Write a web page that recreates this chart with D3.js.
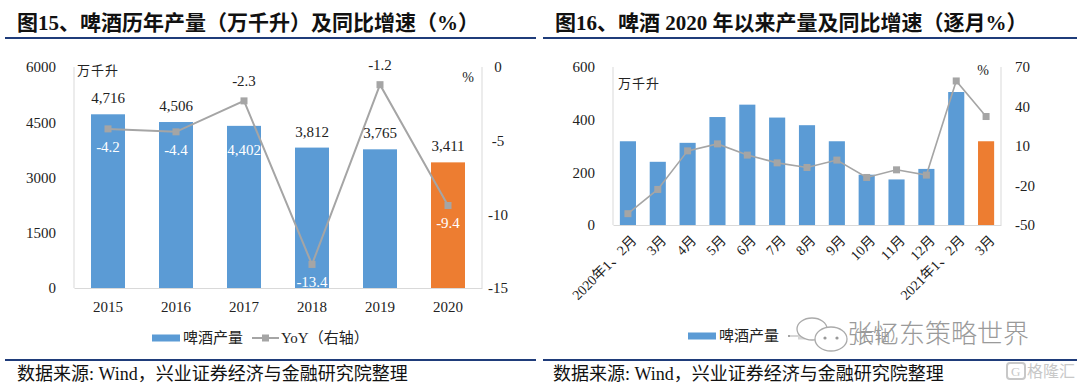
<!DOCTYPE html>
<html><head><meta charset="utf-8">
<script src="https://cdn.jsdelivr.net/npm/d3@7"></script>
<style>
html,body{margin:0;padding:0;background:#fff;}
svg{display:block;}
text{font-family:"Liberation Serif","Noto Sans CJK SC",serif;}
</style></head>
<body>
<svg id="c" width="1080" height="386"></svg>
<script>
// ---------- data ----------
const years = ["2015","2016","2017","2018","2019","2020"];
const yearOutput = [4716,4506,4402,3812,3765,3411];
const yearYoY = [-4.2,-4.4,-2.3,-13.4,-1.2,-9.4];
const yearLeftTicks = [0,1500,3000,4500,6000];
const yearRightTicks = [-15,-10,-5,0];

const months = ["2020年1、2月","3月","4月","5月","6月","7月","8月","9月","10月","11月","12月","2021年1、2月","3月"];
const monthOutput = [318,240,312,410,457,408,379,318,191,173,213,505,318];
const monthYoY = [-41.4,-23.0,6.3,11.6,3.1,-2.8,-6.3,-0.7,-13.9,-8.1,-12.1,59.4,32.4];
const monthLeftTicks = [0,200,400,600];
const monthRightTicks = [-50,-20,10,40,70];

const titles = ["图15、啤酒历年产量（万千升）及同比增速（%）","图16、啤酒 2020 年以来产量及同比增速（逐月%）"];
const sourceText = "数据来源: Wind，兴业证券经济与金融研究院整理";
const legendBar = "啤酒产量";
const legendLine = "YoY（右轴）";
const unitLeft = "万千升";
const unitRight = "%";

// ---------- styles ----------
const BLUE = "#5B9BD5", ORANGE = "#ED7D31", GREY = "#A5A5A5", AXIS = "#D9D9D9", NAVY = "#1F3C7A";
const svg = d3.select("#c");
const plain = d => String(d);              // hyphen-minus like the reference
const one = d => d.toFixed(1);

// titles & rules
[[17,titles[0]],[555,titles[1]]].forEach(([x,t])=>{
  svg.append("text").attr("x",x).attr("y",30).attr("font-size",21).attr("font-weight","bold")
    .attr("fill","#111").attr("font-family","'Noto Sans CJK SC','Liberation Serif',serif").text(t);
});
[[5,536],[543,1077]].forEach(([a,b])=>{
  svg.append("line").attr("x1",a).attr("x2",b).attr("y1",38).attr("y2",38).attr("stroke",NAVY).attr("stroke-width",2);
  svg.append("line").attr("x1",a).attr("x2",b).attr("y1",360).attr("y2",360).attr("stroke",NAVY).attr("stroke-width",2);
});
[[17],[553]].forEach(([x])=>{
  svg.append("text").attr("x",x).attr("y",380).attr("font-size",18).attr("fill","#111").text(sourceText);
});

function legend(x0, y0){
  const g = svg.append("g");
  g.append("rect").attr("x",x0).attr("y",y0-3.5).attr("width",28).attr("height",7).attr("fill",BLUE);
  g.append("text").attr("x",x0+31).attr("y",y0+5).attr("font-size",15).attr("fill","#222").text(legendBar);
  const lx = x0+100;
  g.append("line").attr("x1",lx).attr("x2",lx+27).attr("y1",y0).attr("y2",y0).attr("stroke",GREY).attr("stroke-width",2);
  g.append("rect").attr("x",lx+10).attr("y",y0-3.5).attr("width",7).attr("height",7).attr("fill",GREY);
  g.append("text").attr("x",lx+29).attr("y",y0+5).attr("font-size",15).attr("fill","#222").text(legendLine);
}

// ---------- left chart ----------
(function(){
  const x = d3.scaleBand().domain(years).range([74,482]).paddingInner(0.5).paddingOuter(0.25);
  const yL = d3.scaleLinear().domain([0,6000]).range([288,67]);
  const yR = d3.scaleLinear().domain([-15,0]).range([288,67]);
  const g = svg.append("g");
  g.append("line").attr("x1",74).attr("x2",74).attr("y1",67).attr("y2",288).attr("stroke",AXIS);
  g.append("line").attr("x1",482).attr("x2",482).attr("y1",67).attr("y2",288).attr("stroke",AXIS);
  const axL = g.append("g").attr("transform","translate(56,0)")
    .call(d3.axisLeft(yL).tickValues(yearLeftTicks).tickSize(0).tickPadding(0).tickFormat(plain));
  axL.select(".domain").remove();
  axL.selectAll("text").attr("font-size",15).attr("fill","#222").attr("font-family","'Liberation Serif',serif");
  const axR = g.append("g").attr("transform","translate(498,0)")
    .call(d3.axisRight(yR).tickValues(yearRightTicks).tickSize(0).tickPadding(0).tickFormat(plain));
  axR.select(".domain").remove();
  axR.selectAll("text").attr("font-size",15).attr("fill","#222").attr("text-anchor","middle").attr("font-family","'Liberation Serif',serif");
  const axB = g.append("g").attr("transform","translate(0,288)")
    .call(d3.axisBottom(x).tickSize(0).tickPadding(13));
  axB.select(".domain").attr("stroke",AXIS);
  axB.selectAll("text").attr("font-size",15).attr("fill","#222").attr("font-family","'Liberation Serif',serif");
  g.selectAll(".b").data(years).join("rect")
    .attr("x",d=>x(d)).attr("width",x.bandwidth())
    .attr("y",(d,i)=>yL(yearOutput[i])).attr("height",(d,i)=>288-yL(yearOutput[i]))
    .attr("fill",(d,i)=>i===years.length-1?ORANGE:BLUE);
  const cx = d=>x(d)+x.bandwidth()/2;
  g.append("path").datum(years).attr("fill","none").attr("stroke",GREY).attr("stroke-width",2)
    .attr("d",d3.line().x(d=>cx(d)).y((d,i)=>yR(yearYoY[i])));
  g.selectAll(".m").data(years).join("rect")
    .attr("x",d=>cx(d)-3.5).attr("y",(d,i)=>yR(yearYoY[i])-3.5).attr("width",7).attr("height",7).attr("fill",GREY);
  const fmt = d3.format(",");
  years.forEach((d,i)=>{
    const top = yL(yearOutput[i]);
    const py = yR(yearYoY[i]);
    const pointAbove = py < top;
    const inside = pointAbove && (top - py) < 35;
    g.append("text").attr("x",cx(d)).attr("y",inside?top+29:top-11).attr("text-anchor","middle")
      .attr("font-size",15).attr("fill",inside?"#fff":"#222").text(fmt(yearOutput[i]));
    g.append("text").attr("x",cx(d)).attr("y",pointAbove?py-15:py+23).attr("text-anchor","middle")
      .attr("font-size",15).attr("fill",pointAbove?"#222":"#fff").text(one(yearYoY[i]));
  });
  g.append("text").attr("x",77).attr("y",75).attr("font-size",13).attr("fill","#222").attr("letter-spacing",1)
    .attr("font-family","'Noto Sans CJK SC',sans-serif").text(unitLeft);
  g.append("text").attr("x",468).attr("y",82).attr("font-size",14).attr("fill","#222").attr("text-anchor","middle").text(unitRight);
  legend(152,338);
})();

// ---------- right chart ----------
(function(){
  const idx = months.map((d,i)=>i);
  const x = d3.scaleBand().domain(idx).range([613,1001]).paddingInner(0.46).paddingOuter(0.23);
  const yL = d3.scaleLinear().domain([0,600]).range([225,67]);
  const yR = d3.scaleLinear().domain([-50,70]).range([225,67]);
  const g = svg.append("g");
  g.append("line").attr("x1",613).attr("x2",613).attr("y1",67).attr("y2",225).attr("stroke",AXIS);
  g.append("line").attr("x1",1001).attr("x2",1001).attr("y1",67).attr("y2",225).attr("stroke",AXIS);
  const axL = g.append("g").attr("transform","translate(595,0)")
    .call(d3.axisLeft(yL).tickValues(monthLeftTicks).tickSize(0).tickPadding(0).tickFormat(plain));
  axL.select(".domain").remove();
  axL.selectAll("text").attr("font-size",15).attr("fill","#222").attr("font-family","'Liberation Serif',serif");
  const axR = g.append("g").attr("transform","translate(1015,0)")
    .call(d3.axisRight(yR).tickValues(monthRightTicks).tickSize(0).tickPadding(0).tickFormat(plain));
  axR.select(".domain").remove();
  axR.selectAll("text").attr("font-size",15).attr("fill","#222").attr("font-family","'Liberation Serif',serif");
  const axB = g.append("g").attr("transform","translate(0,225)")
    .call(d3.axisBottom(x).tickSize(0).tickPadding(0).tickFormat(i=>months[i]));
  axB.select(".domain").attr("stroke",AXIS);
  axB.selectAll("text").attr("font-size",14).attr("fill","#222")
    .attr("text-anchor","end").attr("dy","0.35em")
    .attr("transform","translate(6,13) rotate(-45)");
  g.selectAll(".b").data(idx).join("rect")
    .attr("x",i=>x(i)).attr("width",x.bandwidth())
    .attr("y",i=>yL(monthOutput[i])).attr("height",i=>225-yL(monthOutput[i]))
    .attr("fill",i=>i===months.length-1?ORANGE:BLUE);
  const cx = i=>x(i)+x.bandwidth()/2;
  g.append("path").datum(idx).attr("fill","none").attr("stroke",GREY).attr("stroke-width",1.6)
    .attr("d",d3.line().x(i=>cx(i)).y(i=>yR(monthYoY[i])));
  g.selectAll(".m").data(idx).join("rect")
    .attr("x",i=>cx(i)-3.5).attr("y",i=>yR(monthYoY[i])-3.5).attr("width",7).attr("height",7).attr("fill",GREY);
  g.append("text").attr("x",618).attr("y",88).attr("font-size",13).attr("fill","#222").attr("letter-spacing",1)
    .attr("font-family","'Noto Sans CJK SC',sans-serif").text(unitLeft);
  g.append("text").attr("x",983).attr("y",75).attr("font-size",14).attr("fill","#222").attr("text-anchor","middle").text(unitRight);
  legend(688,336);
})();

// ---------- watermarks ----------
(function(){
  const g = svg.append("g");
  g.append("rect").attr("x",790).attr("y",318).attr("width",240).attr("height",34).attr("fill","#fff").attr("opacity",0.55);
  g.append("ellipse").attr("cx",812).attr("cy",329).attr("rx",15).attr("ry",11).attr("fill","#fff").attr("stroke","#aaa").attr("stroke-width",1.3);
  g.append("ellipse").attr("cx",831).attr("cy",339).attr("rx",16).attr("ry",12).attr("fill","#fff").attr("stroke","#aaa").attr("stroke-width",1.3);
  [[825,338],[837,338]].forEach(([a,b])=>g.append("circle").attr("cx",a).attr("cy",b).attr("r",1.6).attr("fill","#999"));
  g.append("text").attr("x",847).attr("y",343).attr("font-size",26).attr("fill","#9a9a9a")
    .attr("font-family","'Noto Sans CJK SC',sans-serif").attr("font-weight",300).text("张忆东策略世界");
  g.append("rect").attr("x",1007).attr("y",363).attr("width",18).attr("height",16).attr("rx",3).attr("fill","none").attr("stroke","#c8c8c8").attr("stroke-width",2);
  g.append("text").attr("x",1011).attr("y",376).attr("font-size",13).attr("fill","#c8c8c8").attr("font-family","'Noto Sans CJK SC',sans-serif").text("G");
  g.append("text").attr("x",1027).attr("y",377).attr("font-size",16).attr("fill","#c8c8c8").attr("font-family","'Noto Sans CJK SC',sans-serif").text("格隆汇");
})();
</script>
</body></html>
